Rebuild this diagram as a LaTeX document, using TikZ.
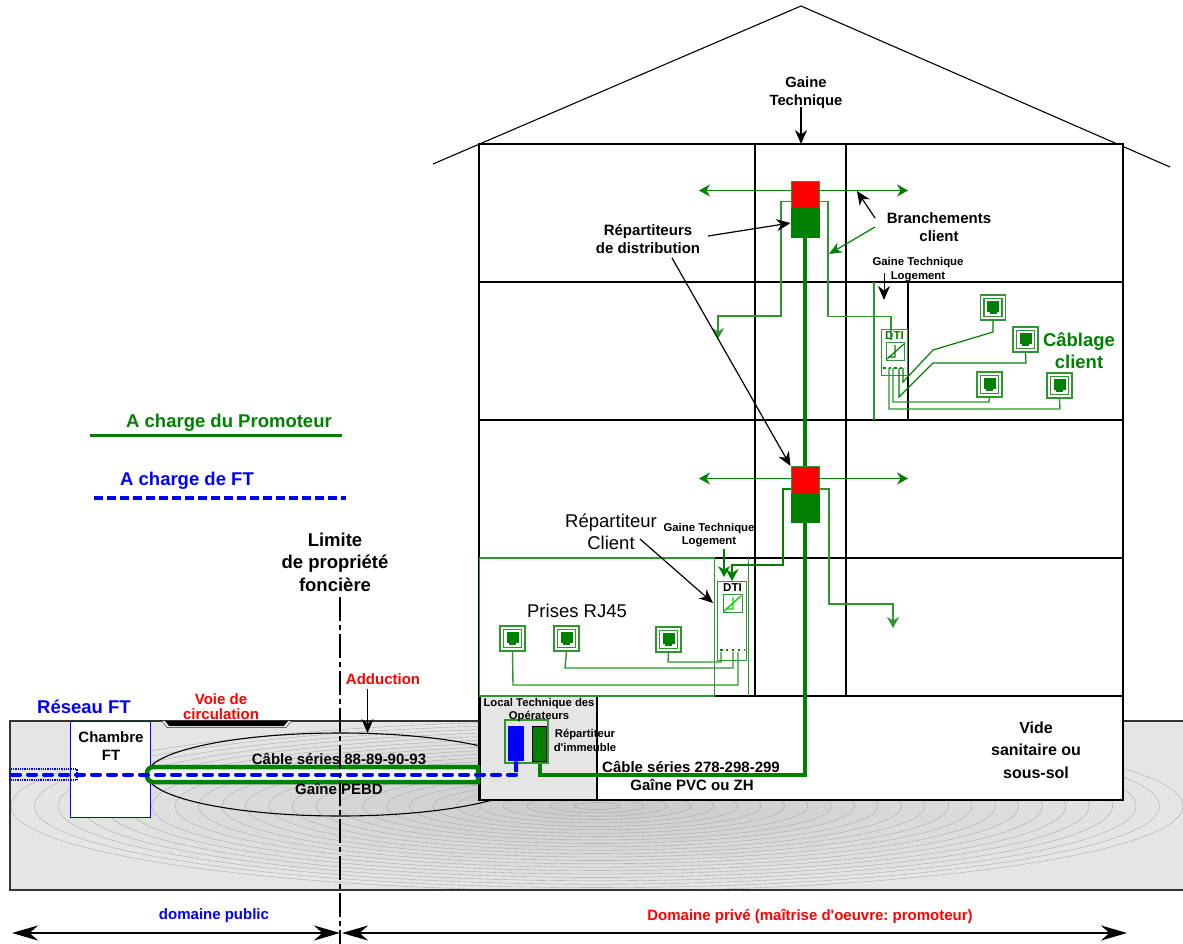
\documentclass[tikz,border=0pt]{standalone}
\usepackage{fontspec}
\setmainfont{Liberation Sans}[Ligatures=TeXOff]
\usetikzlibrary{arrows.meta}
\definecolor{promoteur}{RGB}{0,128,0}
\definecolor{vertclair}{RGB}{46,150,46}
\tikzset{
  txt/.style 2 args={inner sep=0pt,align=center,font=\bfseries\fontsize{#1}{#2}\selectfont},
  reg/.style 2 args={inner sep=0pt,align=center,font=\fontsize{#1}{#2}\selectfont},
  fleche/.style={-{Stealth[length=14pt,width=12pt]},line width=1.2pt},
  branche/.style={draw=vertclair,line width=1.4pt},
  cablage/.style={draw=promoteur,line width=1.2pt},
  mur/.style={draw=black,line width=1.05pt},
  repart/.style={minimum width=28pt,inner sep=0pt,draw=vertclair,line width=1pt},
  prise/.style={draw=vertclair,line width=1.3pt,minimum size=25pt,inner sep=0pt,fill=white},
  boite/.style={draw=vertclair,line width=1.25pt,inner sep=0pt,fill=white},
  pointe/.style={-{Stealth[length=11pt,width=12pt]}},
}
\begin{document}
\begin{tikzpicture}[x=1pt,y=-1pt]
    \useasboundingbox (0,0) rectangle (1183,944);

    % Ground with rings
    \begin{scope}
      \clip (10,721) rectangle (1183,890);
      \fill[black!10] (10,721) rectangle (1183,890);
      \foreach \k in {25,24,...,1} {
        \pgfmathsetmacro{\tone}{10+(25-\k)*0.45}
        \draw[gray!70,line width=0.35pt,fill=black!\tone] (597,806) ellipse ({23.44*\k} and {3.4*\k});
      }
    \end{scope}
    \draw[line width=1.1pt,black!80] (1183,721) -- (10,721) -- (10,890) -- (1183,890);

    % Road
    \draw[draw=black!60,fill=white,line width=0.8pt] (162,721) -- (167,727.5) -- (286,727.5) -- (291,721);
    \fill[black] (165,721) -- (169,726) -- (284,726) -- (288,721) -- cycle;

    % Ellipse of the duct
    \draw[line width=1.1pt] (340,774.5) ellipse (193 and 41.5);

    % Building
    \draw[line width=1.1pt,fill=white] (433,164) -- (801,6) -- (1170,167);
    \fill[white] (479,144) rectangle (1123,800);
    \foreach \y in {282,420,558,696} {
      \draw[mur] (479,\y) -- (1123,\y);
    }
    \draw[mur] (755,144) -- (755,696);
    \draw[mur] (846,144) -- (846,696);
    \draw[mur] (908,282) -- (908,420);
    \draw[mur,fill=black!10] (480,696) rectangle (597,800);
    \draw[mur] (479,144) rectangle (1123,800);

    % Green walls of the flats
    \draw[branche] (874,282) -- (874,420);
    \draw[branche] (714.5,558) -- (479.5,558) -- (479.5,696) -- (714.5,696) -- cycle;
    \draw[branche] (748.5,558) -- (748.5,696);

    % Main riser
    \draw[draw=promoteur,line width=4pt] (805,237) -- (805,466);
    \draw[draw=promoteur,line width=4pt] (805,522) -- (805,775) -- (540,775) -- (540,761);

    % Distribution frames
    \node[repart,fill=red,minimum height=27pt,anchor=north] (repA) at (805,181) {};
    \node[repart,fill=promoteur,draw=promoteur,minimum height=29pt,anchor=north] (distA) at (805,208) {};
    \node[repart,fill=red,minimum height=28pt,anchor=north] (repB) at (805,466) {};
    \node[repart,fill=promoteur,draw=promoteur,minimum height=28pt,anchor=north] (distB) at (805,494) {};

    % Flat boxes
    \node[boite,minimum width=26pt,minimum height=46pt,anchor=north west] (dtiA) at (881,329) {};
    \node[boite,minimum width=18pt,minimum height=18pt,anchor=north west] (carreA) at (886,342) {};
    \node[txt={11.5}{12},text=promoteur] (lblDtiA) at (894.5,336) {DTI};
    \draw[promoteur,line width=1.2pt] (887,359) -- (904,344) (895,345) -- (895,357) -- (888,357);
    \node[boite,minimum width=29pt,minimum height=79pt,anchor=north west] (dtiB) at (717,581) {};
    \node[boite,minimum width=19pt,minimum height=18pt,anchor=north west] (carreB) at (723,594) {};
    \node[txt={11.5}{12}] (lblDtiB) at (732.5,588) {DTI};
    \draw[green!85!black,line width=1.4pt] (724,611) -- (741,596) (733,597) -- (733,609) -- (726,609);
    \draw[promoteur,line width=2.5pt,dash pattern=on 2.5pt off 3pt] (883,368) -- (905,368);
    \draw[promoteur,line width=2.5pt,dash pattern=on 2.5pt off 3.4pt] (720,650) -- (744,650);

    % Sockets
    \foreach \nom/\x/\y in {pA/993/307.5,pB/1025.5/339.5,pC/989.5/384.5,pD/1059.5/385.5,pE/512.5/638.5,pF/566.5/638.5,pG/668.5/639.5} {
      \node[prise] (\nom) at (\x,\y) {};
      \draw[draw=vertclair,line width=1.3pt] (\x-9,\y-9) rectangle (\x+9,\y+9);
      \fill[promoteur] (\x-6,\y-6.5) rectangle (\x+6,\y+4);
      \fill[promoteur] (\x-3.5,\y+4) rectangle (\x+3.5,\y+6.5);
    }

    % Terminals
    \coordinate (tA) at (889,368);
    \coordinate (tB) at (893,368);
    \coordinate (tC) at (899,368);
    \coordinate (tD) at (903,368);
    \coordinate (tE) at (721,652);
    \coordinate (tF) at (733,652);
    \coordinate (tG) at (738,652);

    % Client wiring
    \draw[cablage] (pA.south) -- (993,332) -- (933,350) -- (903,382) -- (tD);
    \draw[cablage] (pB.south) -- (1026,363) -- (933,363) -- (899,397) -- (tC);
    \draw[branche] (pC.south) -- (989,402) -- (893,402) -- (tB);
    \draw[branche] (pD.south) -- (1060,409) -- (889,409) -- (tA);
    \draw[branche] (pG.south) -- (668,662) -- (721,662) -- (tE);
    \draw[branche] (pF.south) -- (565,668) -- (733,668) -- (tF);
    \draw[branche] (pE.south) -- (513,685) -- (738,685) -- (tG);

    % Branch lines
    \coordinate (finGaucheA) at (699,190.5);
    \coordinate (finDroiteA) at (908,190.5);
    \coordinate (finGaucheB) at (699,478.5);
    \coordinate (finDroiteB) at (908,478.5);
    \coordinate (finBasA) at (718,339);
    \coordinate (finBasB) at (893,628);
    \draw[draw=promoteur,line width=1.2pt,pointe] (791,190.5) -- (finGaucheA);
    \draw[draw=promoteur,line width=1.2pt,pointe] (819,190.5) -- (finDroiteA);
    \draw[draw=promoteur,line width=1.2pt,pointe] (791,478.5) -- (finGaucheB);
    \draw[draw=promoteur,line width=1.2pt,pointe] (819,478.5) -- (finDroiteB);
    \draw[branche,pointe] (791,201.5) -- (781,201.5) -- (781,316) -- (718,316) -- (finBasA);
    \draw[branche] (819,201.5) -- (828,201.5) -- (828,316.5) -- (891,316.5) -- (891,340);
    \draw[branche,pointe] (819,489) -- (829,489) -- (829,604) -- (893,604) -- (finBasB);
    \draw[draw=promoteur,line width=2pt,-{Stealth[length=12pt,width=13pt]}] (791,489) -- (783,489) -- (783,565) -- (732,565) -- (732,581);
    \draw[draw=promoteur,line width=1.2pt,pointe] (724,549) -- (724,577);

    % Operators room
    \node[fill=blue,minimum width=16pt,minimum height=35pt,inner sep=0pt,anchor=north west] (repOp) at (508,726) {};
    \node[fill=promoteur,draw=black,line width=1pt,minimum width=14pt,minimum height=35pt,inner sep=0pt,anchor=north west] (repImm) at (532,726) {};
    \draw[draw=vertclair,line width=1.3pt] (505,720) rectangle (548,763);

    % Chamber
    \node[draw=blue,line width=1.4pt,fill=white,minimum width=80pt,minimum height=96pt,inner sep=0pt,anchor=north west] (chambre) at (70,721) {};
    \node[txt={15}{18}] (lblChambre) at (111,746) {Chambre\\FT};

    % Duct
    \draw[draw=promoteur,line width=4.5pt,fill=white] (478,767) [rounded corners=6pt] -- (147,767) -- (147,782) [sharp corners] -- (478,782) -- cycle;

    % FT network
    \draw[draw=blue,line width=1.3pt,densely dotted] (10,769) rectangle (77,780);
    \coordinate (debutFT) at (12,774.5);
    \draw[draw=blue,line width=4pt,line cap=round,dash pattern=on 8pt off 8pt] (debutFT) -- (516,774.5);
    \draw[draw=blue,line width=4pt] (repOp.south) -- (516,772);

    % Limit line
    \coordinate (limHaut) at (340,597);
    \coordinate (limBas) at (340,944);
    \draw[line width=1.1pt,dash pattern=on 24pt off 4pt on 5pt off 4pt] (limHaut) -- (limBas);

    % Black arrows
    \coordinate (gaineHaut) at (801,107);
    \coordinate (gaineBas) at (801,144);
    \coordinate (adHaut) at (367.5,689);
    \coordinate (adBas) at (367.5,733);
    \coordinate (logHaut) at (884,273);
    \coordinate (logBas) at (884,300);
    \draw[fleche,line width=1.6pt] (gaineHaut) -- (gaineBas);
    \draw[fleche] (adHaut) -- (adBas);
    \draw[fleche,line width=1pt] (logHaut) -- (logBas);
    \draw[fleche] (708,236) -- (distA.west);
    \draw[fleche] (672,258) -- (repB.north west);
    \draw[fleche] (875,218) -- (857,191);
    \draw[draw=promoteur,line width=1.2pt,-{Stealth[length=13pt,width=11pt]}] (875,227) -- (829,254);
    \draw[fleche] (640,539) -- (713,603);

    % Bottom arrows
    \coordinate (pubG) at (12,933);
    \coordinate (pubD) at (340,933);
    \coordinate (priG) at (342,933);
    \coordinate (priD) at (1127,933);
    \draw[line width=2.4pt,-{Stealth[length=26pt,width=15pt]}] (176,933) -- (pubG);
    \draw[line width=2.4pt,-{Stealth[length=26pt,width=15pt]}] (176,933) -- (pubD);
    \draw[line width=2.4pt,-{Stealth[length=26pt,width=15pt]}] (734,933) -- (priG);
    \draw[line width=2.4pt,-{Stealth[length=26pt,width=15pt]}] (734,933) -- (priD);

    % Legend
    \node[txt={18.5}{19},text=promoteur] (lblPromoteur) at (229,423) {A charge du Promoteur};
    \draw[draw=promoteur,line width=2.8pt] (90,435.5) -- (342,435.5);
    \node[txt={18.5}{19},text=blue] (lblFT) at (187,481) {A charge de FT};
    \draw[draw=blue,line width=3.2pt,dash pattern=on 9pt off 4pt] (94,498) -- (346,498);

    % Labels
    \node[txt={18.5}{22.5}] (lblLimite) at (335,562) {Limite\\de propriété\\foncière};
    \node[txt={18.5}{19},text=blue] (lblReseau) at (84,707) {Réseau FT};
    \node[txt={15}{15.5},text=red] (lblVoie) at (221,706.5) {Voie de\\circulation};
    \node[txt={15}{15},text=red] (lblAdd) at (383,679) {Adduction};
    \node[txt={15}{15}] (lblCable) at (339,759) {Câble séries 88-89-90-93};
    \node[txt={15}{15}] (lblGaine) at (339,789) {Gaîne PEBD};
    \node[txt={11.3}{13}] (lblLocal) at (539,710) {Local Technique des\\Opérateurs};
    \node[txt={11.3}{14}] (lblImm) at (585,740) {Répartiteur\\d'immeuble};
    \node[txt={15}{15}] (lblCableB) at (691,767) {Câble séries 278-298-299};
    \node[txt={15}{15}] (lblGaineB) at (692,785) {Gaîne PVC ou ZH};
    \node[txt={16}{22.5}] (lblVide) at (1036,750) {Vide\\sanitaire ou\\sous-sol};
    \node[txt={14.8}{18}] (lblGT) at (806,92.5) {Gaine\\Technique};
    \node[txt={15}{18}] (lblRep) at (648,239) {Répartiteurs\\de distribution};
    \node[txt={15}{18}] (lblBranch) at (939,227) {Branchements\\client};
    \node[txt={11.4}{14}] (lblLogA) at (918,269.5) {Gaine Technique\\Logement};
    \node[txt={11.4}{13}] (lblLogB) at (709,535) {Gaine Technique\\Logement};
    \node[txt={18.5}{22},text=promoteur] (lblCablage) at (1079,351) {Câblage\\client};
    \node[reg={18.5}{22}] (lblClient) at (611,532) {Répartiteur\\Client};
    \node[reg={18.5}{20}] (lblPrises) at (577,611) {Prises RJ45};
    \node[txt={15}{15},text=blue] (lblPublic) at (214,916) {domaine public};
    \node[txt={15}{15},text=red] (lblPrive) at (810,916) {Domaine privé (maîtrise d'oeuvre:\ promoteur)};
\end{tikzpicture}
\end{document}
